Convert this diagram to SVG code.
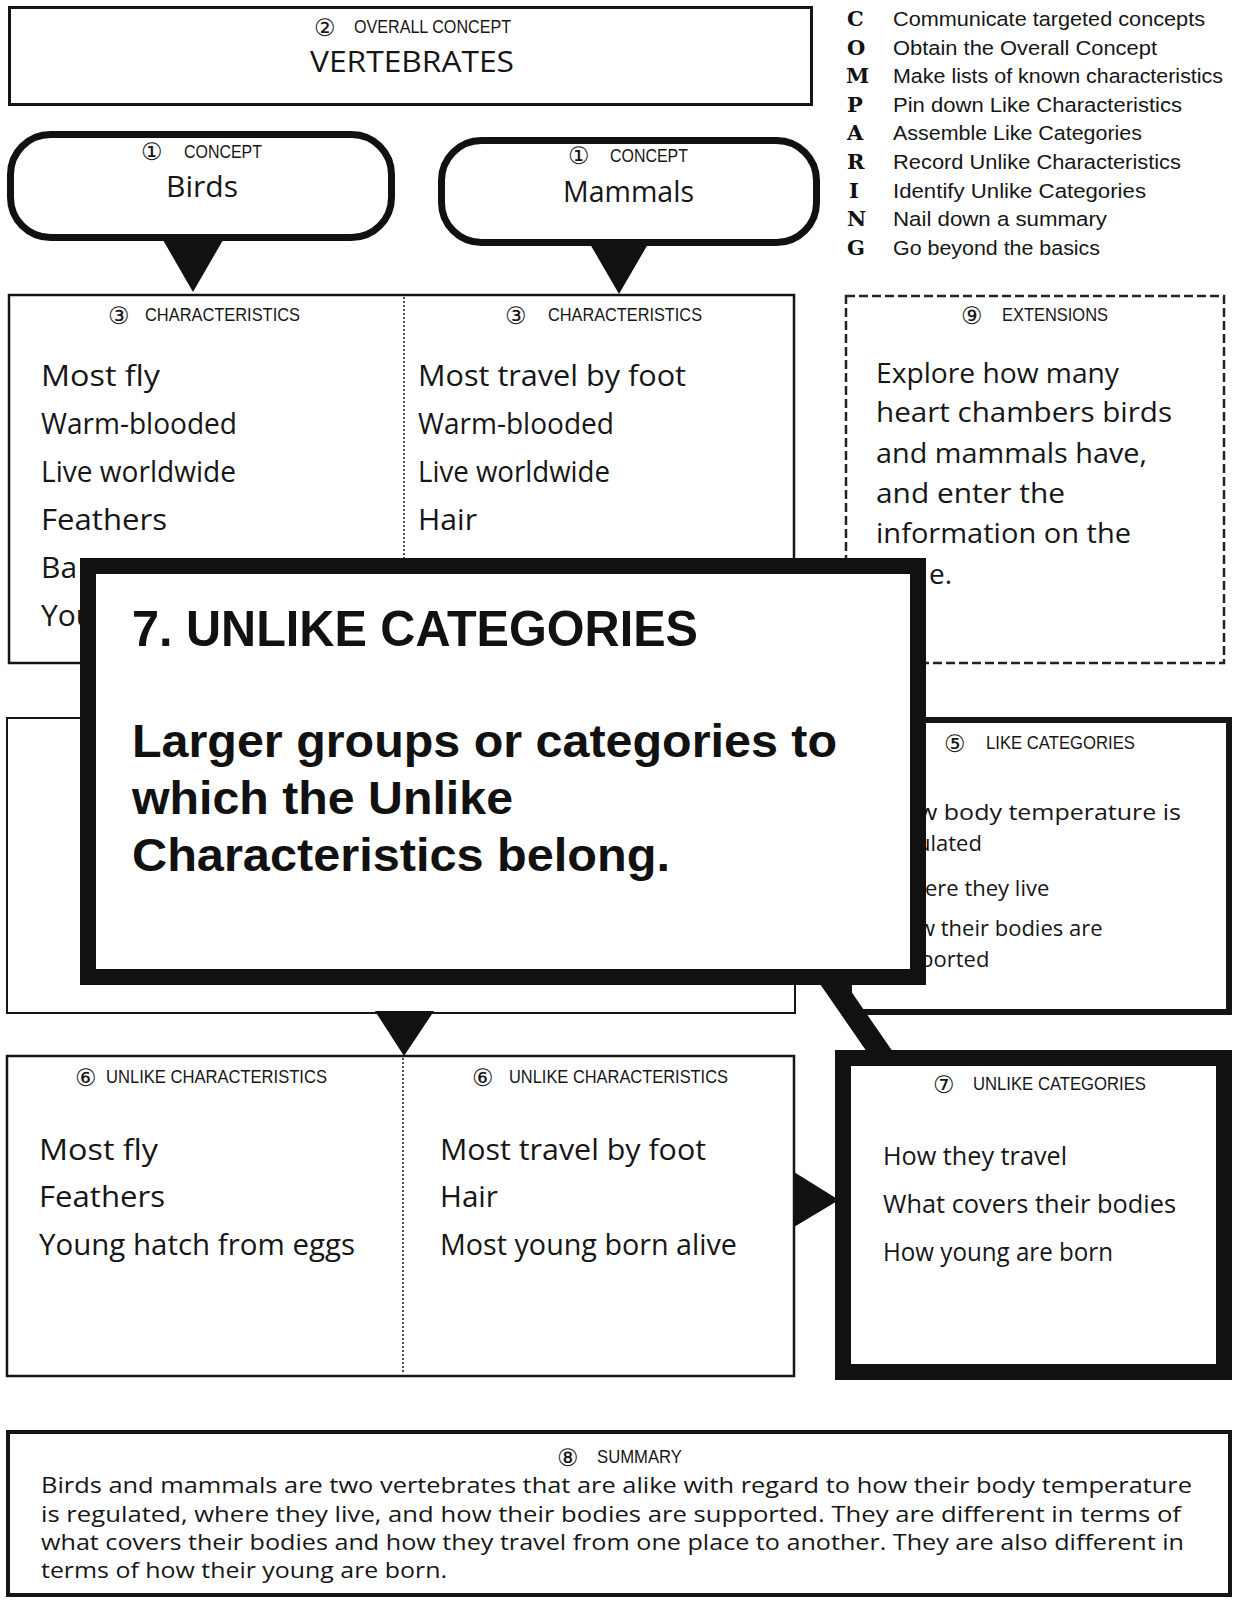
<svg xmlns="http://www.w3.org/2000/svg" width="1233" height="1600" viewBox="0 0 1233 1600">
  <style>
    .bg { fill: #ffffff; }
    .box { fill: #ffffff; stroke: #151515; stroke-width: 2.5; }
    .thick { fill: #ffffff; stroke: #151515; stroke-width: 6; }
    .heavy { fill: #ffffff; stroke: #111111; stroke-width: 16; }
    .bubble { fill: #ffffff; stroke: #111111; stroke-width: 7; }
    .dashed { fill: #ffffff; stroke: #222222; stroke-width: 2.5; stroke-dasharray: 9 4; }
    .divider { stroke: #222222; stroke-width: 1.6; stroke-dasharray: 2 2; fill: none; }
    .pointer { fill: #111111; stroke: none; }
    .hand { font-family: "Open Sans", "DejaVu Sans", sans-serif; fill: #161616; }
    .lbl { font-family: "Liberation Sans", Arial, sans-serif; font-size: 18px; fill: #161616; }
    .num { font-family: "DejaVu Sans", sans-serif; font-size: 24px; fill: #161616; }
    .legL { font-family: "DejaVu Serif", "Liberation Serif", serif; font-weight: bold; font-size: 21px; fill: #111111; }
    .legT { font-family: "Liberation Sans", Arial, sans-serif; font-size: 20.5px; fill: #161616; }
    .big { font-family: "Liberation Sans", Arial, sans-serif; font-weight: bold; fill: #111111; }
  </style>

  <rect class="bg" x="0" y="0" width="1233" height="1600"/>

  <!-- 2: overall concept -->
  <g id="overall-concept">
    <rect x="9.5" y="7.5" width="802" height="97" fill="#fff" stroke="#151515" stroke-width="3"/>
    <text class="num" x="314" y="36">②</text>
    <text class="lbl" x="354" y="33" textLength="157" lengthAdjust="spacingAndGlyphs">OVERALL CONCEPT</text>
    <text class="hand" x="310" y="72" font-size="30" textLength="204" lengthAdjust="spacingAndGlyphs">VERTEBRATES</text>
  </g>

  <!-- COMPARING legend -->
  <g id="legend">
    <text class="legL" x="847" y="26">C</text>
    <text class="legT" x="893" y="26" textLength="312" lengthAdjust="spacingAndGlyphs">Communicate targeted concepts</text>
    <text class="legL" x="847" y="54.6">O</text>
    <text class="legT" x="893" y="54.6" textLength="264" lengthAdjust="spacingAndGlyphs">Obtain the Overall Concept</text>
    <text class="legL" x="846" y="83.2">M</text>
    <text class="legT" x="893" y="83.2" textLength="330" lengthAdjust="spacingAndGlyphs">Make lists of known characteristics</text>
    <text class="legL" x="847" y="111.8">P</text>
    <text class="legT" x="893" y="111.8" textLength="289" lengthAdjust="spacingAndGlyphs">Pin down Like Characteristics</text>
    <text class="legL" x="847" y="140.4">A</text>
    <text class="legT" x="893" y="140.4" textLength="249" lengthAdjust="spacingAndGlyphs">Assemble Like Categories</text>
    <text class="legL" x="847" y="169">R</text>
    <text class="legT" x="893" y="169" textLength="288" lengthAdjust="spacingAndGlyphs">Record Unlike Characteristics</text>
    <text class="legL" x="849" y="197.6">I</text>
    <text class="legT" x="893" y="197.6" textLength="253" lengthAdjust="spacingAndGlyphs">Identify Unlike Categories</text>
    <text class="legL" x="847" y="226.2">N</text>
    <text class="legT" x="893" y="226.2" textLength="214" lengthAdjust="spacingAndGlyphs">Nail down a summary</text>
    <text class="legL" x="847" y="254.8">G</text>
    <text class="legT" x="893" y="254.8" textLength="207" lengthAdjust="spacingAndGlyphs">Go beyond the basics</text>
  </g>

  <!-- 1: concept bubbles -->
  <g id="concept-birds">
    <rect class="bubble" x="10.5" y="134.5" width="381" height="103" rx="40" ry="40"/>
    <text class="num" x="141" y="160">①</text>
    <text class="lbl" x="184" y="158" textLength="78" lengthAdjust="spacingAndGlyphs">CONCEPT</text>
    <text class="hand" x="166" y="197" font-size="30" textLength="72" lengthAdjust="spacingAndGlyphs">Birds</text>
  </g>
  <g id="concept-mammals">
    <rect class="bubble" x="441.5" y="140.5" width="375" height="102" rx="40" ry="40"/>
    <text class="num" x="568" y="164">①</text>
    <text class="lbl" x="610" y="162" textLength="78" lengthAdjust="spacingAndGlyphs">CONCEPT</text>
    <text class="hand" x="563" y="202" font-size="30" textLength="131" lengthAdjust="spacingAndGlyphs">Mammals</text>
  </g>

  <!-- 3: characteristics -->
  <g id="characteristics">
    <rect class="box" x="9" y="295" width="785" height="368"/>
    <line class="divider" x1="404" y1="297" x2="404" y2="661"/>
    <text class="num" x="108" y="324">③</text>
    <text class="lbl" x="145" y="321" textLength="155" lengthAdjust="spacingAndGlyphs">CHARACTERISTICS</text>
    <text class="num" x="505" y="324">③</text>
    <text class="lbl" x="548" y="321" textLength="154" lengthAdjust="spacingAndGlyphs">CHARACTERISTICS</text>
    <text class="hand" x="41" y="386" font-size="30" textLength="119" lengthAdjust="spacingAndGlyphs">Most fly</text>
    <text class="hand" x="41" y="434" font-size="30" textLength="196" lengthAdjust="spacingAndGlyphs">Warm-blooded</text>
    <text class="hand" x="41" y="482" font-size="30" textLength="195" lengthAdjust="spacingAndGlyphs">Live worldwide</text>
    <text class="hand" x="41" y="530" font-size="30" textLength="126" lengthAdjust="spacingAndGlyphs">Feathers</text>
    <text class="hand" x="41" y="578" font-size="30">Ba</text>
    <text class="hand" x="41" y="626" font-size="30">You</text>
    <text class="hand" x="418" y="386" font-size="30" textLength="268" lengthAdjust="spacingAndGlyphs">Most travel by foot</text>
    <text class="hand" x="418" y="434" font-size="30" textLength="196" lengthAdjust="spacingAndGlyphs">Warm-blooded</text>
    <text class="hand" x="418" y="482" font-size="30" textLength="192" lengthAdjust="spacingAndGlyphs">Live worldwide</text>
    <text class="hand" x="418" y="530" font-size="30" textLength="59" lengthAdjust="spacingAndGlyphs">Hair</text>
  </g>

  <!-- 9: extensions -->
  <g id="extensions">
    <rect class="dashed" x="846" y="296" width="378" height="367"/>
    <text class="num" x="961" y="324">⑨</text>
    <text class="lbl" x="1002" y="321" textLength="106" lengthAdjust="spacingAndGlyphs">EXTENSIONS</text>
    <text class="hand" x="876" y="383" font-size="28" textLength="243" lengthAdjust="spacingAndGlyphs">Explore how many</text>
    <text class="hand" x="876" y="422" font-size="28" textLength="296" lengthAdjust="spacingAndGlyphs">heart chambers birds</text>
    <text class="hand" x="876" y="463" font-size="28" textLength="271" lengthAdjust="spacingAndGlyphs">and mammals have,</text>
    <text class="hand" x="876" y="503" font-size="28" textLength="189" lengthAdjust="spacingAndGlyphs">and enter the</text>
    <text class="hand" x="876" y="543" font-size="28" textLength="255" lengthAdjust="spacingAndGlyphs">information on the</text>
    <text class="hand" x="929" y="584" font-size="28">e.</text>
  </g>

  <!-- 4: like characteristics (mostly hidden by the callout) -->
  <g id="like-characteristics">
    <rect x="7" y="718" width="788" height="295" fill="#fff" stroke="#151515" stroke-width="2"/>
  </g>

  <!-- 5: like categories -->
  <g id="like-categories">
    <rect class="thick" x="849" y="720" width="380" height="292"/>
    <text class="num" x="944" y="752">⑤</text>
    <text class="lbl" x="986" y="749" textLength="149" lengthAdjust="spacingAndGlyphs">LIKE CATEGORIES</text>
    <text class="hand" x="918" y="820" font-size="22" textLength="263" lengthAdjust="spacingAndGlyphs">w body temperature is</text>
    <text class="hand" x="917" y="851" font-size="22">ulated</text>
    <text class="hand" x="925" y="896" font-size="22">ere they live</text>
    <text class="hand" x="918" y="936" font-size="22">w their bodies are</text>
    <text class="hand" x="920" y="967" font-size="22">ported</text>
  </g>

  <!-- 6: unlike characteristics -->
  <g id="unlike-characteristics">
    <rect class="box" x="7" y="1056" width="787" height="320"/>
    <line class="divider" x1="403" y1="1058" x2="403" y2="1374"/>
    <text class="num" x="75" y="1086">⑥</text>
    <text class="lbl" x="106" y="1083" textLength="221" lengthAdjust="spacingAndGlyphs">UNLIKE CHARACTERISTICS</text>
    <text class="num" x="472" y="1086">⑥</text>
    <text class="lbl" x="509" y="1083" textLength="219" lengthAdjust="spacingAndGlyphs">UNLIKE CHARACTERISTICS</text>
    <text class="hand" x="39" y="1160" font-size="29" textLength="119" lengthAdjust="spacingAndGlyphs">Most fly</text>
    <text class="hand" x="39" y="1207" font-size="29" textLength="126" lengthAdjust="spacingAndGlyphs">Feathers</text>
    <text class="hand" x="39" y="1255" font-size="29" textLength="316" lengthAdjust="spacingAndGlyphs">Young hatch from eggs</text>
    <text class="hand" x="440" y="1160" font-size="29" textLength="266" lengthAdjust="spacingAndGlyphs">Most travel by foot</text>
    <text class="hand" x="440" y="1207" font-size="29" textLength="58" lengthAdjust="spacingAndGlyphs">Hair</text>
    <text class="hand" x="440" y="1255" font-size="29" textLength="297" lengthAdjust="spacingAndGlyphs">Most young born alive</text>
  </g>

  <!-- 7: unlike categories -->
  <g id="unlike-categories">
    <rect class="heavy" x="843" y="1058" width="381" height="314"/>
    <text class="num" x="933" y="1093">⑦</text>
    <text class="lbl" x="973" y="1090" textLength="173" lengthAdjust="spacingAndGlyphs">UNLIKE CATEGORIES</text>
    <text class="hand" x="883" y="1165" font-size="26" textLength="184" lengthAdjust="spacingAndGlyphs">How they travel</text>
    <text class="hand" x="883" y="1213" font-size="26" textLength="293" lengthAdjust="spacingAndGlyphs">What covers their bodies</text>
    <text class="hand" x="883" y="1261" font-size="26" textLength="230" lengthAdjust="spacingAndGlyphs">How young are born</text>
  </g>

  <!-- 8: summary -->
  <g id="summary">
    <rect x="8" y="1432" width="1222" height="163" fill="#fff" stroke="#151515" stroke-width="4"/>
    <text class="num" x="557" y="1466">⑧</text>
    <text class="lbl" x="597" y="1463" textLength="85" lengthAdjust="spacingAndGlyphs">SUMMARY</text>
    <text class="hand" x="41" y="1493" font-size="22" textLength="1151" lengthAdjust="spacingAndGlyphs">Birds and mammals are two vertebrates that are alike with regard to how their body temperature</text>
    <text class="hand" x="41" y="1522" font-size="22" textLength="1140" lengthAdjust="spacingAndGlyphs">is regulated, where they live, and how their bodies are supported. They are different in terms of</text>
    <text class="hand" x="41" y="1550" font-size="22" textLength="1143" lengthAdjust="spacingAndGlyphs">what covers their bodies and how they travel from one place to another. They are also different in</text>
    <text class="hand" x="41" y="1578" font-size="22" textLength="406" lengthAdjust="spacingAndGlyphs">terms of how their young are born.</text>
  </g>

  <!-- callout explaining step 7 -->
  <g id="callout">
    <rect class="heavy" x="88" y="566" width="830" height="411"/>
    <text class="big" x="132" y="646" font-size="50" textLength="566" lengthAdjust="spacingAndGlyphs">7. UNLIKE CATEGORIES</text>
    <text class="big" x="132" y="757" font-size="47" textLength="705" lengthAdjust="spacingAndGlyphs">Larger groups or categories to</text>
    <text class="big" x="132" y="814" font-size="47" textLength="381" lengthAdjust="spacingAndGlyphs">which the Unlike</text>
    <text class="big" x="132" y="871" font-size="47" textLength="538" lengthAdjust="spacingAndGlyphs">Characteristics belong.</text>
  </g>

  <!-- pointers between steps -->
  <g id="connectors">
    <polygon class="pointer" points="163,240 223,240 193,292"/>
    <polygon class="pointer" points="590,244 648,244 619,294"/>
    <polygon class="pointer" points="375,1011 434,1011 404,1056"/>
    <polygon class="pointer" points="794,1172 794,1227 839,1200"/>
    <polygon class="pointer" points="820,984 846,984 893,1052 867,1052"/>
  </g>
</svg>
